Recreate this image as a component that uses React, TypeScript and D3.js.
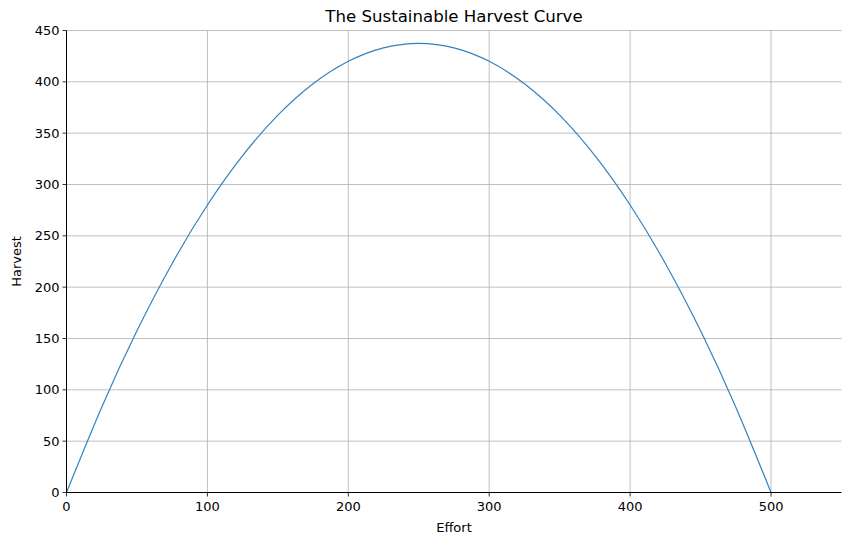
import React from "react";
import * as d3 from "d3";

const effort = [0, 25, 50, 75, 100, 125, 150, 175, 200, 225, 250, 275, 300, 325, 350, 375, 400, 425, 450, 475, 500];
const harvest = [0, 83.1, 157.5, 223.1, 280, 328.1, 367.5, 398.1, 420, 433.1, 437.5, 433.1, 420, 398.1, 367.5, 328.1, 280, 223.1, 157.5, 83.1, 0];
const xTicks = [0, 100, 200, 300, 400, 500];
const yTicks = [0, 50, 100, 150, 200, 250, 300, 350, 400, 450];

export default function App() {
  const W = 850, H = 545;
  const left = 66.5, right = 841.5, top = 30.5, bottom = 492.5;
  const x = d3.scaleLinear().domain([0, 550]).range([left, right]);
  const y = d3.scaleLinear().domain([0, 450]).range([bottom, top]);
  const pts = effort.map((e, i) => [e, harvest[i]] as [number, number]);
  const line = d3.line<[number, number]>().x(d => x(d[0])).y(d => y(d[1])).curve(d3.curveNatural);
  const font = "DejaVu Sans, sans-serif";
  return (
    <svg width={W} height={H} style={{ position: "absolute", left: 0, top: 0, background: "#fff" }} fontFamily={font}>
      {xTicks.map(t => (
        <line key={"gx" + t} x1={x(t)} x2={x(t)} y1={top} y2={bottom} stroke="#b0b0b0" strokeWidth={0.8} />
      ))}
      {yTicks.map(t => (
        <line key={"gy" + t} x1={left} x2={right} y1={y(t)} y2={y(t)} stroke="#b0b0b0" strokeWidth={0.8} />
      ))}
      <path d={line(pts) || ""} fill="none" stroke="#3182bd" strokeWidth={1.2} />
      <line x1={left} x2={left} y1={top} y2={bottom} stroke="#000" strokeWidth={1} />
      <line x1={left} x2={right} y1={bottom} y2={bottom} stroke="#000" strokeWidth={1} />
      {xTicks.map(t => (
        <g key={"tx" + t}>
          <line x1={x(t)} x2={x(t)} y1={bottom} y2={bottom + 4} stroke="#000" strokeWidth={0.8} />
          <text x={x(t)} y={bottom + 18} textAnchor="middle" fontSize={13}>{t}</text>
        </g>
      ))}
      {yTicks.map(t => (
        <g key={"ty" + t}>
          <line x1={left - 4} x2={left} y1={y(t)} y2={y(t)} stroke="#000" strokeWidth={0.8} />
          <text x={left - 7} y={y(t) + 4.5} textAnchor="end" fontSize={13}>{t}</text>
        </g>
      ))}
      <text x={(left + right) / 2} y={532} textAnchor="middle" fontSize={13}>Effort</text>
      <text transform={`translate(21,${(top + bottom) / 2}) rotate(-90)`} textAnchor="middle" fontSize={13}>Harvest</text>
      <text x={(left + right) / 2} y={22} textAnchor="middle" fontSize={16.6}>The Sustainable Harvest Curve</text>
    </svg>
  );
}
